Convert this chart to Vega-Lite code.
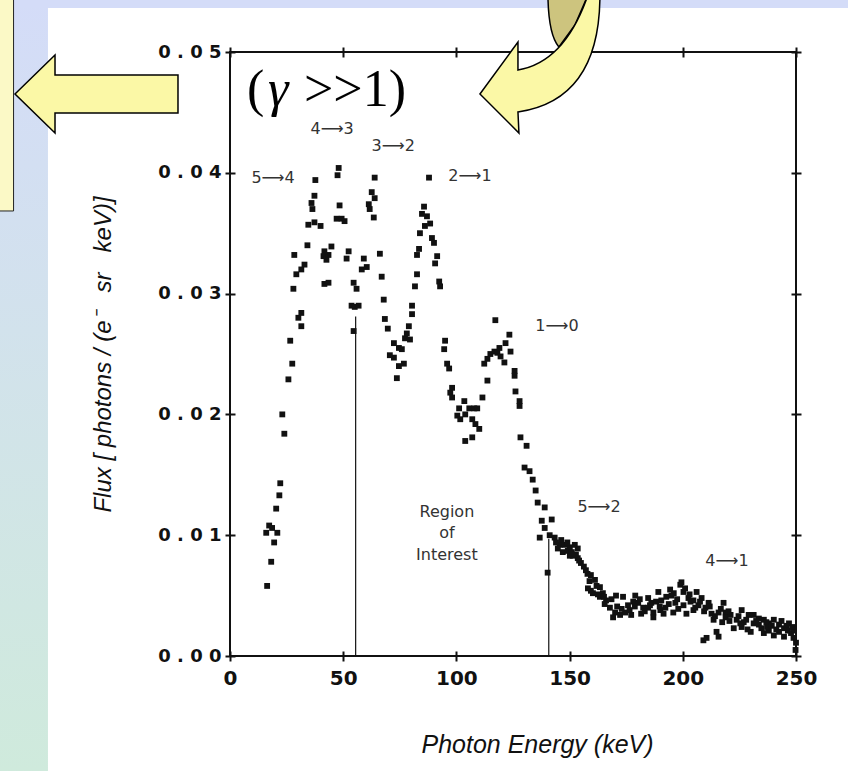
{
  "$schema": "https://vega.github.io/schema/vega-lite/v6.json",
  "width": 566,
  "height": 604,
  "autosize": {"type": "none"},
  "padding": {"left": 230, "top": 52, "right": 52, "bottom": 115},
  "background": "#ffffff",
  "config": {
    "view": {"stroke": "#111111", "strokeWidth": 2},
    "font": "Liberation Sans"
  },
  "data": {"values": [{}]},
  "datasets": {
    "spectrum": [
      {"e": 16.4, "f": 0.0058}, {"e": 16.0, "f": 0.0102}, {"e": 17.3, "f": 0.0108}, {"e": 18.6, "f": 0.0106},
      {"e": 20.9, "f": 0.0102}, {"e": 18.2, "f": 0.0078}, {"e": 19.5, "f": 0.0094}, {"e": 20.4, "f": 0.0122},
      {"e": 21.8, "f": 0.0133}, {"e": 22.2, "f": 0.0143}, {"e": 23.1, "f": 0.0200}, {"e": 24.0, "f": 0.0184},
      {"e": 25.8, "f": 0.0229}, {"e": 26.6, "f": 0.0261}, {"e": 27.5, "f": 0.0242}, {"e": 28.0, "f": 0.0304},
      {"e": 28.4, "f": 0.0332}, {"e": 29.3, "f": 0.0316}, {"e": 30.2, "f": 0.0280}, {"e": 31.5, "f": 0.0284},
      {"e": 31.5, "f": 0.0273}, {"e": 31.5, "f": 0.0320}, {"e": 32.9, "f": 0.0324}, {"e": 34.2, "f": 0.0340},
      {"e": 34.6, "f": 0.0357}, {"e": 37.3, "f": 0.0359}, {"e": 40.0, "f": 0.0356}, {"e": 36.0, "f": 0.0375},
      {"e": 36.4, "f": 0.0370}, {"e": 37.3, "f": 0.0381}, {"e": 37.7, "f": 0.0394}, {"e": 41.3, "f": 0.0331},
      {"e": 42.6, "f": 0.0328}, {"e": 43.5, "f": 0.0332}, {"e": 41.7, "f": 0.0335}, {"e": 44.8, "f": 0.0339},
      {"e": 41.7, "f": 0.0308}, {"e": 43.5, "f": 0.0309}, {"e": 47.1, "f": 0.0362}, {"e": 48.4, "f": 0.0373},
      {"e": 49.3, "f": 0.0362}, {"e": 50.6, "f": 0.0360}, {"e": 47.5, "f": 0.0398}, {"e": 48.0, "f": 0.0404},
      {"e": 51.5, "f": 0.0329}, {"e": 52.4, "f": 0.0335}, {"e": 54.6, "f": 0.0309}, {"e": 55.9, "f": 0.0304},
      {"e": 53.7, "f": 0.0290}, {"e": 55.1, "f": 0.0289}, {"e": 56.8, "f": 0.0290}, {"e": 54.6, "f": 0.0269},
      {"e": 58.2, "f": 0.0320}, {"e": 59.1, "f": 0.0329}, {"e": 60.4, "f": 0.0322}, {"e": 61.3, "f": 0.0374},
      {"e": 61.7, "f": 0.0370}, {"e": 62.6, "f": 0.0384}, {"e": 63.9, "f": 0.0379}, {"e": 63.5, "f": 0.0363},
      {"e": 63.9, "f": 0.0396}, {"e": 66.2, "f": 0.0333}, {"e": 67.0, "f": 0.0314}, {"e": 67.9, "f": 0.0295},
      {"e": 68.4, "f": 0.0279}, {"e": 69.7, "f": 0.0271}, {"e": 70.6, "f": 0.0249}, {"e": 72.4, "f": 0.0259},
      {"e": 72.4, "f": 0.0247}, {"e": 74.6, "f": 0.0255}, {"e": 75.9, "f": 0.0254}, {"e": 74.6, "f": 0.0240},
      {"e": 76.8, "f": 0.0242}, {"e": 73.7, "f": 0.0230}, {"e": 77.3, "f": 0.0263}, {"e": 78.1, "f": 0.0267},
      {"e": 79.5, "f": 0.0262}, {"e": 79.0, "f": 0.0273}, {"e": 80.4, "f": 0.0283}, {"e": 80.4, "f": 0.0290},
      {"e": 81.7, "f": 0.0306}, {"e": 82.6, "f": 0.0316}, {"e": 82.6, "f": 0.0332}, {"e": 83.5, "f": 0.0337},
      {"e": 83.9, "f": 0.0350}, {"e": 84.8, "f": 0.0366}, {"e": 85.7, "f": 0.0372}, {"e": 86.1, "f": 0.0356},
      {"e": 87.0, "f": 0.0364}, {"e": 88.4, "f": 0.0358}, {"e": 87.9, "f": 0.0396}, {"e": 89.2, "f": 0.0346},
      {"e": 90.1, "f": 0.0342}, {"e": 90.6, "f": 0.0325}, {"e": 91.5, "f": 0.0331}, {"e": 92.4, "f": 0.0310},
      {"e": 92.8, "f": 0.0306}, {"e": 94.6, "f": 0.0254}, {"e": 95.0, "f": 0.0261}, {"e": 95.9, "f": 0.0242},
      {"e": 96.8, "f": 0.0238}, {"e": 97.3, "f": 0.0218}, {"e": 98.1, "f": 0.0222}, {"e": 98.1, "f": 0.0214},
      {"e": 100.4, "f": 0.0199}, {"e": 101.2, "f": 0.0205}, {"e": 101.7, "f": 0.0196}, {"e": 103.5, "f": 0.0211},
      {"e": 103.9, "f": 0.0200}, {"e": 103.9, "f": 0.0178}, {"e": 105.7, "f": 0.0205}, {"e": 107.0, "f": 0.0196},
      {"e": 107.0, "f": 0.0181}, {"e": 107.9, "f": 0.0205}, {"e": 109.2, "f": 0.0205}, {"e": 108.4, "f": 0.0192},
      {"e": 110.1, "f": 0.0188}, {"e": 111.5, "f": 0.0214}, {"e": 113.7, "f": 0.0228}, {"e": 112.3, "f": 0.0242},
      {"e": 113.7, "f": 0.0246}, {"e": 115.0, "f": 0.0250}, {"e": 116.8, "f": 0.0252}, {"e": 118.1, "f": 0.0251},
      {"e": 119.0, "f": 0.0255}, {"e": 119.5, "f": 0.0248}, {"e": 121.2, "f": 0.0243}, {"e": 121.7, "f": 0.0259},
      {"e": 123.4, "f": 0.0266}, {"e": 123.9, "f": 0.0252}, {"e": 117.2, "f": 0.0278}, {"e": 125.7, "f": 0.0236},
      {"e": 125.7, "f": 0.0232}, {"e": 126.1, "f": 0.0219}, {"e": 127.9, "f": 0.0211}, {"e": 127.9, "f": 0.0207},
      {"e": 128.3, "f": 0.0181}, {"e": 131.0, "f": 0.0174}, {"e": 130.1, "f": 0.0156}, {"e": 132.3, "f": 0.0153},
      {"e": 133.7, "f": 0.0146}, {"e": 135.0, "f": 0.0137}, {"e": 135.9, "f": 0.0127}, {"e": 139.0, "f": 0.0123},
      {"e": 137.7, "f": 0.0112}, {"e": 139.0, "f": 0.0106}, {"e": 142.1, "f": 0.0113}, {"e": 136.8, "f": 0.0098},
      {"e": 141.2, "f": 0.0100}, {"e": 143.4, "f": 0.0098}, {"e": 140.3, "f": 0.0069}, {"e": 145.6, "f": 0.0092},
      {"e": 147.9, "f": 0.0092}, {"e": 150.1, "f": 0.0090}, {"e": 152.3, "f": 0.0092}, {"e": 147.0, "f": 0.0086},
      {"e": 150.1, "f": 0.0083}, {"e": 153.6, "f": 0.0081}, {"e": 155.0, "f": 0.0077}, {"e": 157.2, "f": 0.0071},
      {"e": 159.4, "f": 0.0067}, {"e": 161.2, "f": 0.0063}, {"e": 159.4, "f": 0.0054}, {"e": 158.1, "f": 0.0056},
      {"e": 160.3, "f": 0.0052}, {"e": 163.4, "f": 0.0057}, {"e": 164.7, "f": 0.0052}, {"e": 163.4, "f": 0.0049},
      {"e": 166.1, "f": 0.0046}, {"e": 170.5, "f": 0.0050}, {"e": 167.8, "f": 0.0040}, {"e": 170.1, "f": 0.0036},
      {"e": 172.3, "f": 0.0034}, {"e": 169.2, "f": 0.0032}, {"e": 174.5, "f": 0.0036}, {"e": 175.8, "f": 0.0042},
      {"e": 178.1, "f": 0.0045}, {"e": 173.6, "f": 0.0049}, {"e": 177.2, "f": 0.0034}, {"e": 180.3, "f": 0.0044},
      {"e": 181.6, "f": 0.0035}, {"e": 182.5, "f": 0.0040}, {"e": 184.7, "f": 0.0040}, {"e": 187.0, "f": 0.0036},
      {"e": 187.0, "f": 0.0032}, {"e": 189.2, "f": 0.0053}, {"e": 190.1, "f": 0.0038}, {"e": 190.5, "f": 0.0046},
      {"e": 192.7, "f": 0.0049}, {"e": 195.0, "f": 0.0050}, {"e": 196.7, "f": 0.0044}, {"e": 198.9, "f": 0.0059},
      {"e": 199.4, "f": 0.0061}, {"e": 200.3, "f": 0.0053}, {"e": 202.5, "f": 0.0048}, {"e": 200.3, "f": 0.0042},
      {"e": 201.6, "f": 0.0035}, {"e": 203.4, "f": 0.0045}, {"e": 204.7, "f": 0.0038}, {"e": 206.1, "f": 0.0053},
      {"e": 206.9, "f": 0.0042}, {"e": 209.1, "f": 0.0013}, {"e": 210.5, "f": 0.0015}, {"e": 210.0, "f": 0.0040},
      {"e": 212.7, "f": 0.0035}, {"e": 215.8, "f": 0.0036}, {"e": 215.8, "f": 0.0016}, {"e": 214.9, "f": 0.0020},
      {"e": 218.0, "f": 0.0044}, {"e": 218.9, "f": 0.0036}, {"e": 218.9, "f": 0.0032}, {"e": 221.1, "f": 0.0034},
      {"e": 222.5, "f": 0.0023}, {"e": 223.8, "f": 0.0030}, {"e": 226.0, "f": 0.0024}, {"e": 226.9, "f": 0.0028},
      {"e": 229.1, "f": 0.0034}, {"e": 230.0, "f": 0.0020}, {"e": 231.3, "f": 0.0027}, {"e": 233.6, "f": 0.0026},
      {"e": 235.8, "f": 0.0030}, {"e": 235.8, "f": 0.0019}, {"e": 238.0, "f": 0.0027}, {"e": 240.2, "f": 0.0030},
      {"e": 240.2, "f": 0.0017}, {"e": 242.5, "f": 0.0026}, {"e": 244.7, "f": 0.0023}, {"e": 244.7, "f": 0.0016},
      {"e": 246.9, "f": 0.0027}, {"e": 247.8, "f": 0.0019}, {"e": 249.1, "f": 0.0021}, {"e": 249.8, "f": 0.0005},
      {"e": 179.0, "f": 0.0050}, {"e": 184.7, "f": 0.0048}, {"e": 186.1, "f": 0.0044}, {"e": 192.3, "f": 0.0040},
      {"e": 195.8, "f": 0.0036}, {"e": 198.0, "f": 0.0039}, {"e": 204.7, "f": 0.0046}, {"e": 208.3, "f": 0.0048},
      {"e": 211.4, "f": 0.0044}, {"e": 213.6, "f": 0.0030}, {"e": 226.0, "f": 0.0038}, {"e": 231.3, "f": 0.0034},
      {"e": 238.0, "f": 0.0021}, {"e": 242.5, "f": 0.0020}, {"e": 233.6, "f": 0.0031}, {"e": 144.8, "f": 0.0089},
      {"e": 149.2, "f": 0.0087}, {"e": 151.4, "f": 0.0083}, {"e": 153.6, "f": 0.0089}, {"e": 165.5, "f": 0.0043},
      {"e": 168.5, "f": 0.0047}, {"e": 171.0, "f": 0.0041}, {"e": 173.0, "f": 0.0039}, {"e": 176.5, "f": 0.0038},
      {"e": 178.8, "f": 0.0041}, {"e": 181.0, "f": 0.0047}, {"e": 183.2, "f": 0.0037}, {"e": 185.5, "f": 0.0042},
      {"e": 188.2, "f": 0.0045}, {"e": 189.8, "f": 0.0041}, {"e": 191.5, "f": 0.0035}, {"e": 193.8, "f": 0.0043},
      {"e": 194.4, "f": 0.0055}, {"e": 196.0, "f": 0.0052}, {"e": 197.5, "f": 0.0047}, {"e": 201.0, "f": 0.0056},
      {"e": 203.0, "f": 0.0051}, {"e": 205.5, "f": 0.0040}, {"e": 207.6, "f": 0.0045}, {"e": 209.4, "f": 0.0037},
      {"e": 211.9, "f": 0.0041}, {"e": 214.2, "f": 0.0033}, {"e": 216.8, "f": 0.0039}, {"e": 217.4, "f": 0.0028},
      {"e": 220.2, "f": 0.0037}, {"e": 220.6, "f": 0.0029}, {"e": 224.6, "f": 0.0033}, {"e": 225.4, "f": 0.0027},
      {"e": 228.0, "f": 0.0030}, {"e": 228.6, "f": 0.0022}, {"e": 232.4, "f": 0.0029}, {"e": 234.7, "f": 0.0023},
      {"e": 236.9, "f": 0.0028}, {"e": 237.2, "f": 0.0024}, {"e": 239.3, "f": 0.0025}, {"e": 241.3, "f": 0.0022},
      {"e": 243.6, "f": 0.0029}, {"e": 245.8, "f": 0.0025}, {"e": 246.4, "f": 0.0021}, {"e": 248.3, "f": 0.0024},
      {"e": 248.9, "f": 0.0015}, {"e": 250.0, "f": 0.0011}, {"e": 156.3, "f": 0.0074}, {"e": 158.8, "f": 0.0062},
      {"e": 161.9, "f": 0.0058}, {"e": 162.5, "f": 0.0051}, {"e": 165.2, "f": 0.0049}, {"e": 154.2, "f": 0.0079},
      {"e": 157.9, "f": 0.0068}, {"e": 144.0, "f": 0.0094}, {"e": 146.3, "f": 0.0096}, {"e": 149.0, "f": 0.0094},
      {"e": 151.0, "f": 0.0086}, {"e": 152.8, "f": 0.0084}
    ],
    "region": [
      {"e": 55.5, "lo": 0, "hi": 0.0281},
      {"e": 140.8, "lo": 0, "hi": 0.0097}
    ],
    "labels": [
      {"t": "5⟶4", "e": 19.0, "f": 0.0396},
      {"t": "4⟶3", "e": 45.1, "f": 0.04363},
      {"t": "3⟶2", "e": 72.1, "f": 0.0422},
      {"t": "2⟶1", "e": 106.0, "f": 0.0397},
      {"t": "1⟶0", "e": 144.4, "f": 0.0273},
      {"t": "5⟶2", "e": 163.0, "f": 0.0123},
      {"t": "4⟶1", "e": 219.5, "f": 0.0079},
      {"t": "Region", "e": 95.8, "f": 0.0119},
      {"t": "of", "e": 95.8, "f": 0.0102},
      {"t": "Interest", "e": 95.8, "f": 0.0084}
    ]
  },
  "resolve": {"axis": {"x": "independent", "y": "independent"}},
  "layer": [
    {
      "mark": {
        "type": "rect",
        "fill": {
          "gradient": "linear", "x1": 0, "y1": 0, "x2": 0, "y2": 1,
          "stops": [{"offset": 0, "color": "#d4dcf8"}, {"offset": 1, "color": "#cfeadc"}]
        }
      },
      "encoding": {
        "x": {"datum": -110, "type": "quantitative", "axis": null},
        "x2": {"datum": -80.4},
        "y": {"datum": 0.0543, "type": "quantitative", "axis": null},
        "y2": {"datum": -0.0096}
      }
    },
    {
      "mark": {"type": "rect", "fill": "#d4dcf8"},
      "encoding": {
        "x": {"datum": -110, "type": "quantitative", "axis": null},
        "x2": {"datum": 280},
        "y": {"datum": 0.058, "type": "quantitative", "axis": null},
        "y2": {"datum": 0.05364}
      }
    },
    {
      "mark": {"type": "rect", "fill": "#fbf9c6", "stroke": "#222222", "strokeWidth": 1},
      "encoding": {
        "x": {"datum": -110, "type": "quantitative", "axis": null},
        "x2": {"datum": -95.6},
        "y": {"datum": 0.058, "type": "quantitative", "axis": null},
        "y2": {"datum": 0.03684}
      }
    },
    {
      "data": {"name": "region"},
      "mark": {"type": "rule", "color": "#111111", "strokeWidth": 1.2},
      "encoding": {
        "x": {
          "field": "e", "type": "quantitative",
          "scale": {"domain": [0, 250], "nice": false, "zero": false},
          "axis": {
            "orient": "top", "values": [0, 50, 100, 150, 200, 250], "offset": -5,
            "tickSize": 10, "tickWidth": 2, "tickColor": "#111111",
            "domain": false, "labels": false, "grid": false, "title": null
          }
        },
        "y": {
          "field": "lo", "type": "quantitative",
          "scale": {"domain": [0, 0.05], "nice": false, "zero": false},
          "axis": {
            "orient": "right", "values": [0, 0.01, 0.02, 0.03, 0.04, 0.05], "offset": -5,
            "tickSize": 10, "tickWidth": 2, "tickColor": "#111111",
            "domain": false, "labels": false, "grid": false, "title": null
          }
        },
        "y2": {"field": "hi"}
      }
    },
    {
      "data": {"name": "spectrum"},
      "mark": {"type": "point", "shape": "square", "filled": true, "size": 34, "color": "#111111", "opacity": 1},
      "encoding": {
        "x": {
          "field": "e", "type": "quantitative",
          "scale": {"domain": [0, 250], "nice": false, "zero": false},
          "axis": {
            "orient": "bottom", "values": [0, 50, 100, 150, 200, 250], "offset": -5,
            "tickSize": 10, "tickWidth": 2, "tickColor": "#111111",
            "domain": false, "grid": false,
            "labelFont": "DejaVu Sans", "labelFontWeight": "bold", "labelFontSize": 20,
            "labelColor": "#111111", "labelPadding": 7, "labelFlush": false, "labelOverlap": false,
            "title": "Photon Energy (keV)", "titleFont": "Liberation Sans", "titleFontStyle": "italic",
            "titleFontWeight": "normal", "titleFontSize": 25, "titleColor": "#111111",
            "titleX": 307, "titleY": 101, "titleBaseline": "alphabetic", "titleAlign": "center"
          }
        },
        "y": {
          "field": "f", "type": "quantitative",
          "scale": {"domain": [0, 0.05], "nice": false, "zero": false},
          "axis": {
            "orient": "left", "values": [0, 0.01, 0.02, 0.03, 0.04, 0.05], "offset": -5,
            "tickSize": 10, "tickWidth": 2, "tickColor": "#111111",
            "domain": false, "grid": false,
            "labelExpr": "join(split(format(datum.value, '.2f'), ''), ' ')",
            "labelFont": "DejaVu Sans", "labelFontWeight": "bold", "labelFontSize": 18,
            "labelColor": "#111111", "labelPadding": 4, "labelFlush": false, "labelOverlap": false,
            "title": "Flux [ photons / (e⁻\u00a0\u00a0\u00a0sr\u00a0\u00a0\u00a0keV)]", "titleFont": "Liberation Sans",
            "titleFontStyle": "italic", "titleFontWeight": "normal", "titleFontSize": 24,
            "titleColor": "#111111", "titleX": -125, "titleY": 302, "titleBaseline": "alphabetic",
            "titleAlign": "center", "titleAngle": 270
          }
        }
      }
    },
    {
      "data": {"name": "labels"},
      "mark": {"type": "text", "font": "DejaVu Sans", "fontSize": 16, "color": "#333333", "align": "center", "baseline": "middle"},
      "encoding": {
        "x": {"field": "e", "type": "quantitative", "axis": null},
        "y": {"field": "f", "type": "quantitative", "axis": null},
        "text": {"field": "t"}
      }
    },
    {
      "mark": {"type": "text", "text": "(", "font": "Liberation Serif", "fontSize": 52, "color": "#000000", "align": "left", "baseline": "alphabetic"},
      "encoding": {
        "x": {"datum": 7.5, "type": "quantitative", "axis": null},
        "y": {"datum": 0.04553, "type": "quantitative", "axis": null}
      }
    },
    {
      "mark": {"type": "text", "text": "γ", "font": "Liberation Serif", "fontStyle": "italic", "fontSize": 52, "color": "#000000", "align": "left", "baseline": "alphabetic"},
      "encoding": {
        "x": {"datum": 16.8, "type": "quantitative", "axis": null},
        "y": {"datum": 0.04553, "type": "quantitative", "axis": null}
      }
    },
    {
      "mark": {"type": "text", "text": ">>1)", "font": "Liberation Serif", "fontSize": 52, "color": "#000000", "align": "left", "baseline": "alphabetic"},
      "encoding": {
        "x": {"datum": 32.7, "type": "quantitative", "axis": null},
        "y": {"datum": 0.04553, "type": "quantitative", "axis": null}
      }
    },
    {
      "mark": {
        "type": "point", "filled": true, "fill": "#fbf8a6", "stroke": "#000000", "strokeWidth": 1.5, "opacity": 1,
        "size": 26569,
        "shape": "M -1 0.006 L -0.509 -0.472 L -0.509 -0.227 L 1 -0.227 L 1 0.239 L -0.509 0.239 L -0.509 0.485 Z"
      },
      "encoding": {
        "x": {"datum": -58.97, "type": "quantitative", "axis": null},
        "y": {"datum": 0.04656, "type": "quantitative", "axis": null}
      }
    },
    {
      "mark": {
        "type": "point", "filled": true, "fill": "#cdc47e", "stroke": "#000000", "strokeWidth": 1.5, "opacity": 1,
        "size": 19600,
        "shape": "M 0.114 -1.014 L 0.686 -1.014 L 0.5 -0.586 L 0.271 -0.271 Q 0.12 -0.45 0.114 -1.014 Z"
      },
      "encoding": {
        "x": {"datum": 136.9, "type": "quantitative", "axis": null},
        "y": {"datum": 0.04884, "type": "quantitative", "axis": null}
      }
    },
    {
      "mark": {
        "type": "point", "filled": true, "fill": "#fbf8a6", "stroke": "#000000", "strokeWidth": 1.5, "opacity": 1,
        "size": 19600,
        "shape": "M -0.857 0.4 L -0.314 -0.343 L -0.314 0.057 Q 0.357 -0.057 0.686 -1.014 L 0.857 -1.014 Q 0.857 0.486 -0.314 0.657 L -0.3 0.957 Z"
      },
      "encoding": {
        "x": {"datum": 136.9, "type": "quantitative", "axis": null},
        "y": {"datum": 0.04884, "type": "quantitative", "axis": null}
      }
    }
  ]
}
